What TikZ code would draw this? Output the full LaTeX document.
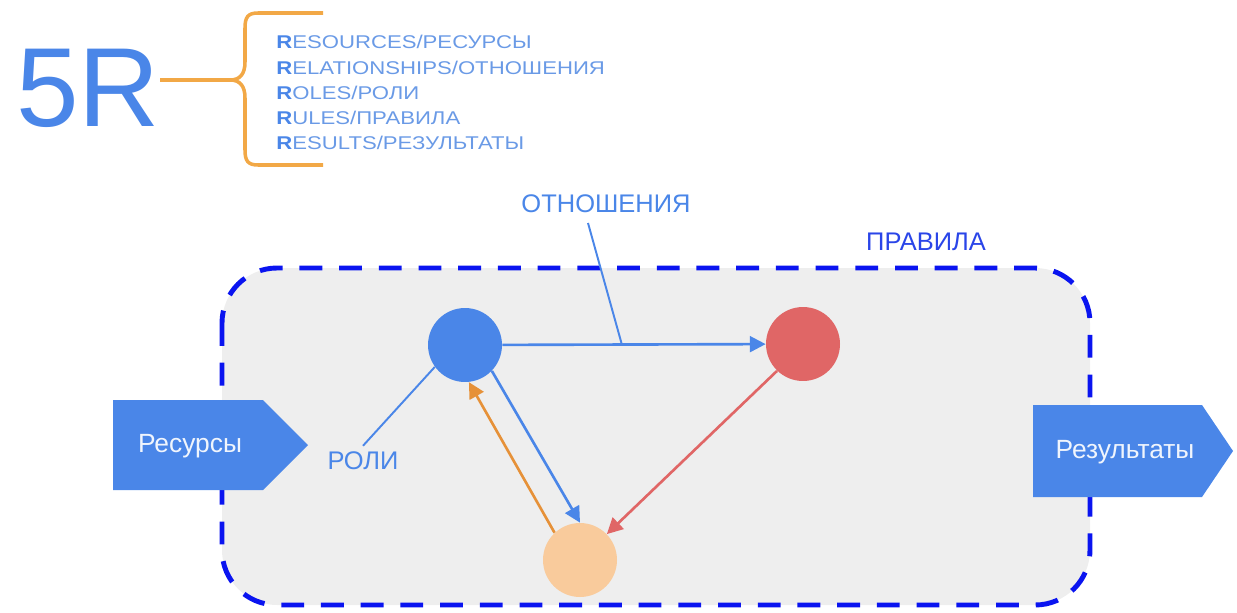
\documentclass[tikz,border=0pt]{standalone}
\usepackage{fontspec}
\setmainfont{Liberation Sans}
\newfontfamily\listfont[FakeStretch=1.2]{Liberation Sans}
\usetikzlibrary{arrows.meta}
\definecolor{gblue}{HTML}{4A86E8}
\definecolor{listblue}{HTML}{6A9AE6}
\definecolor{braceorange}{HTML}{F2A846}
\definecolor{gorange}{HTML}{E69138}
\definecolor{gred}{HTML}{E06666}
\definecolor{gpeach}{HTML}{F9CB9C}
\definecolor{rulesblue}{HTML}{0A14F0}
\definecolor{rulestext}{HTML}{2A45E8}
\definecolor{boxgray}{HTML}{EEEEEE}
\newcommand{\boldR}[1]{{\color{gblue}\bfseries R}#1}
\newcommand{\fsz}[1]{\fontsize{#1}{#1}\selectfont}

\begin{document}
\begin{tikzpicture}[x=0.02cm, y=-0.02cm,
  >={Triangle[length=9pt,width=9pt]},
  agent/.style={circle, minimum size=1.48cm, inner sep=0},
  flow/.style={line width=1.5pt},
  pointer/.style={gblue, line width=1.1pt},
  label/.style={text=gblue, font=\fsz{14.5}},
  arrowtext/.style={text=white!92!gblue, font=\fsz{15}}]
  \useasboundingbox (0,0) rectangle (1237,612);
  % 5R and its list
  \node[text=gblue, inner sep=0, font=\fsz{64}] (N5R) at (88,88) {5R};
  \coordinate (Cusp) at (230,80);
  \draw[braceorange, line width=2pt] (N5R.east |- Cusp) -- (Cusp);
  \draw[braceorange, line width=2pt] (323,13) -- (258,13)
    .. controls (248,13) and (245,17) .. (245,28) -- (245,62)
    .. controls (245,74) and (240,80) .. (Cusp)
    .. controls (240,80) and (245,86) .. (245,98) -- (245,150)
    .. controls (245,161) and (248,165) .. (258,165) -- (323,165);
  \foreach \en/\ru [count=\i] in {ESOURCES/РЕСУРСЫ, ELATIONSHIPS/ОТНОШЕНИЯ,
      OLES/РОЛИ, ULES/ПРАВИЛА, ESULTS/РЕЗУЛЬТАТЫ}
    \node[anchor=base west, inner sep=0, text=listblue, font=\listfont\fsz{10.5}]
      (L\i) at (276,24+25*\i) {\boldR{\en}/\ru};
  % rules box
  \draw[rulesblue, fill=boxgray, line width=2.8pt, dash pattern=on 13pt off 9.6pt,
    rounded corners=1.1cm] (222,268) rectangle (1090,605);
  \node[text=rulestext, font=\fsz{14.5}] (NRules) at (926,242) {ПРАВИЛА};
  % input and output
  \fill[gblue] (113,400) -- (263,400) -- (308,445) -- (263,490) -- (113,490) -- cycle;
  \node[arrowtext] (NRes) at (190,446) {Ресурсы};
  \fill[gblue] (1033,405) -- (1202,405) -- (1233,451) -- (1202,497) -- (1033,497) -- cycle;
  \node[arrowtext] (NResults) at (1125,452) {Результаты};
  % agents
  \node[agent, fill=gblue]  (NBlue)  at (465,345) {};
  \node[agent, fill=gred]   (NRed)   at (803,344) {};
  \node[agent, fill=gpeach] (NPeach) at (580,560) {};
  \path[->, flow, gblue]   (NBlue) edge (NRed);
  \path[->, flow, gblue]   (NBlue.-44) edge (NPeach.90);
  \path[->, flow, gorange] (NPeach.133) edge (NBlue.-84);
  \path[->, flow, gred]    (NRed.-134) edge (NPeach.44);
  % labels
  \node[label] (NRel) at (606,204) {ОТНОШЕНИЯ};
  \coordinate (RelTop) at (588,223);
  \coordinate (RelPt) at (622,345);
  \draw[pointer] (RelTop) -- (RelPt);
  \node[label] (NRoles) at (363,461) {РОЛИ};
  \draw[pointer] (NRoles.north) -- (NBlue.216);
\end{tikzpicture}
\end{document}
